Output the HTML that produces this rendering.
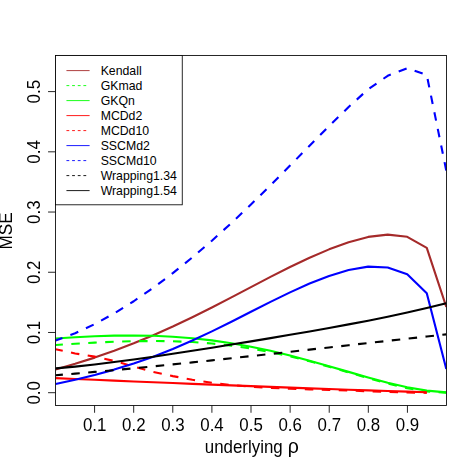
<!DOCTYPE html>
<html><head><meta charset="utf-8"><title>MSE plot</title>
<style>
html,body{margin:0;padding:0;background:#fff;}
body{width:475px;height:475px;overflow:hidden;}
svg{display:block;}
text{font-family:"Liberation Sans",sans-serif;fill:#000;}
</style></head>
<body>
<svg width="475" height="475" viewBox="0 0 475 475">
<rect x="0" y="0" width="475" height="475" fill="#fff"/>
<defs><clipPath id="pc"><rect x="55.45" y="55.42" width="391" height="350.15"/></clipPath></defs>
<g clip-path="url(#pc)">
<path d="M55.60,369.57 L75.14,363.85 L94.67,357.62 L114.21,350.80 L133.74,343.34 L153.28,335.22 L172.81,326.49 L192.34,317.19 L211.88,307.43 L231.41,297.34 L250.95,287.10 L270.49,276.92 L290.02,267.04 L309.56,257.75 L329.09,249.37 L348.62,242.24 L368.16,236.90 L387.70,234.60 L407.23,236.80 L426.77,247.80 L446.30,307.00" fill="none" stroke="#A52A2A" stroke-width="2.12" stroke-linecap="butt" stroke-linejoin="round"/>
<path d="M55.60,345.02 L75.14,343.71 L94.67,342.62 L114.21,341.77 L133.74,341.20 L153.28,341.01 L172.81,341.26 L192.34,342.06 L211.88,343.48 L231.41,345.59 L250.95,348.44 L270.49,352.03 L290.02,356.33 L309.56,361.28 L329.09,366.72 L348.62,372.45 L368.16,378.20 L387.70,383.60 L407.23,388.19 L426.77,391.41 L446.30,392.59" fill="none" stroke="#00FF00" stroke-width="2.12" stroke-linecap="butt" stroke-linejoin="round" stroke-dasharray="8.5 8.46" stroke-dashoffset="1.2"/>
<path d="M55.60,338.56 L75.14,337.20 L94.67,336.20 L114.21,335.60 L133.74,335.44 L153.28,335.79 L172.81,336.70 L192.34,338.22 L211.88,340.38 L231.41,343.20 L250.95,346.69 L270.49,350.81 L290.02,355.51 L309.56,360.68 L329.09,366.20 L348.62,371.88 L368.16,377.48 L387.70,382.71 L407.23,387.22 L426.77,390.59 L446.30,392.32" fill="none" stroke="#00FF00" stroke-width="2.12" stroke-linecap="butt" stroke-linejoin="round"/>
<path d="M55.60,378.12 L75.14,378.96 L94.67,379.79 L114.21,380.62 L133.74,381.44 L153.28,382.25 L172.81,383.05 L192.34,383.85 L211.88,384.63 L231.41,385.40 L250.95,386.16 L270.49,386.90 L290.02,387.63 L309.56,388.34 L329.09,389.04 L348.62,389.72 L368.16,390.38 L387.70,391.02 L407.23,391.64 L426.77,392.24" fill="none" stroke="#FF0000" stroke-width="2.12" stroke-linecap="butt" stroke-linejoin="round"/>
<path d="M55.60,349.20 L75.14,353.50 L94.67,356.60 L114.21,361.00 L133.74,366.50 L153.28,371.90 L172.81,376.09 L192.34,379.79 L211.88,382.78 L231.41,385.06 L250.95,386.73 L270.49,387.92 L290.02,388.75 L309.56,389.39 L329.09,389.96 L348.62,390.55 L368.16,391.22 L387.70,391.91 L407.23,392.53 L426.77,392.82" fill="none" stroke="#FF0000" stroke-width="2.12" stroke-linecap="butt" stroke-linejoin="round" stroke-dasharray="8.5 8.46" stroke-dashoffset="1.2"/>
<path d="M55.60,383.99 L75.14,379.68 L94.67,374.95 L114.21,369.61 L133.74,363.53 L153.28,356.64 L172.81,348.94 L192.34,340.47 L211.88,331.34 L231.41,321.71 L250.95,311.81 L270.49,301.92 L290.02,292.37 L309.56,283.57 L329.09,275.96 L348.62,270.06 L368.16,266.60 L387.70,267.50 L407.23,274.30 L426.77,293.30 L446.30,369.00" fill="none" stroke="#0000FF" stroke-width="2.12" stroke-linecap="butt" stroke-linejoin="round"/>
<path d="M55.60,340.43 L75.14,333.26 L94.67,324.17 L114.21,313.42 L133.74,301.25 L153.28,287.80 L172.81,273.17 L192.34,257.45 L211.88,240.71 L231.41,223.02 L250.95,204.50 L270.49,185.28 L290.02,165.59 L309.56,145.70 L329.09,126.01 L348.62,107.00 L368.16,89.30 L387.70,75.80 L407.23,68.30 L426.77,75.00 L446.30,170.70" fill="none" stroke="#0000FF" stroke-width="2.12" stroke-linecap="butt" stroke-linejoin="round" stroke-dasharray="8.5 8.46" stroke-dashoffset="1.2"/>
<path d="M55.60,375.28 L75.14,373.64 L94.67,371.92 L114.21,370.13 L133.74,368.28 L153.28,366.38 L172.81,364.41 L192.34,362.40 L211.88,360.35 L231.41,358.26 L250.95,356.14 L270.49,353.99 L290.02,351.82 L309.56,349.63 L329.09,347.44 L348.62,345.24 L368.16,343.04 L387.70,340.85 L407.23,338.67 L426.77,336.50 L446.30,334.36" fill="none" stroke="#000000" stroke-width="2.12" stroke-linecap="butt" stroke-linejoin="round" stroke-dasharray="8.5 8.46" stroke-dashoffset="1.2"/>
<path d="M55.60,368.34 L75.14,366.57 L94.67,364.46 L114.21,362.07 L133.74,359.47 L153.28,356.69 L172.81,353.78 L192.34,350.77 L211.88,347.68 L231.41,344.53 L250.95,341.34 L270.49,338.09 L290.02,334.80 L309.56,331.43 L329.09,327.97 L348.62,324.40 L368.16,320.67 L387.70,316.74 L407.23,312.56 L426.77,308.06 L446.30,303.19" fill="none" stroke="#000000" stroke-width="2.12" stroke-linecap="butt" stroke-linejoin="round"/>
</g>
<rect x="55.45" y="55.42" width="391.00" height="350.15" fill="none" stroke="#000" stroke-width="0.85"/>
<line x1="94.59" y1="405.57" x2="94.59" y2="412.77" stroke="#000" stroke-width="0.85"/>
<line x1="133.69" y1="405.57" x2="133.69" y2="412.77" stroke="#000" stroke-width="0.85"/>
<line x1="172.79" y1="405.57" x2="172.79" y2="412.77" stroke="#000" stroke-width="0.85"/>
<line x1="211.90" y1="405.57" x2="211.90" y2="412.77" stroke="#000" stroke-width="0.85"/>
<line x1="251.00" y1="405.57" x2="251.00" y2="412.77" stroke="#000" stroke-width="0.85"/>
<line x1="290.11" y1="405.57" x2="290.11" y2="412.77" stroke="#000" stroke-width="0.85"/>
<line x1="329.22" y1="405.57" x2="329.22" y2="412.77" stroke="#000" stroke-width="0.85"/>
<line x1="368.32" y1="405.57" x2="368.32" y2="412.77" stroke="#000" stroke-width="0.85"/>
<line x1="407.43" y1="405.57" x2="407.43" y2="412.77" stroke="#000" stroke-width="0.85"/>
<line x1="48.05" y1="392.70" x2="55.45" y2="392.70" stroke="#000" stroke-width="0.85"/>
<line x1="48.05" y1="332.48" x2="55.45" y2="332.48" stroke="#000" stroke-width="0.85"/>
<line x1="48.05" y1="272.26" x2="55.45" y2="272.26" stroke="#000" stroke-width="0.85"/>
<line x1="48.05" y1="212.04" x2="55.45" y2="212.04" stroke="#000" stroke-width="0.85"/>
<line x1="48.05" y1="151.82" x2="55.45" y2="151.82" stroke="#000" stroke-width="0.85"/>
<line x1="48.05" y1="91.60" x2="55.45" y2="91.60" stroke="#000" stroke-width="0.85"/>
<g opacity="0.999">
<rect x="55.45" y="55.42" width="126.80" height="149.38" fill="#fff" stroke="#000" stroke-width="0.85"/>
<line x1="66.45" y1="70.60" x2="89.6" y2="70.60" stroke="#A52A2A" stroke-width="0.9" stroke-linecap="butt"/>
<text transform="translate(100.65,74.60) scale(1,1.02)" font-size="12.3">Kendall</text>
<line x1="66.45" y1="85.60" x2="88.6" y2="85.60" stroke="#00FF00" stroke-width="0.9" stroke-linecap="butt" stroke-dasharray="2.83 2.82"/>
<text transform="translate(100.65,89.60) scale(1,1.02)" font-size="12.3">GKmad</text>
<line x1="66.45" y1="100.60" x2="89.6" y2="100.60" stroke="#00FF00" stroke-width="0.9" stroke-linecap="butt"/>
<text transform="translate(100.65,104.60) scale(1,1.02)" font-size="12.3">GKQn</text>
<line x1="66.45" y1="115.60" x2="89.6" y2="115.60" stroke="#FF0000" stroke-width="0.9" stroke-linecap="butt"/>
<text transform="translate(100.65,119.60) scale(1,1.02)" font-size="12.3">MCDd2</text>
<line x1="66.45" y1="130.60" x2="88.6" y2="130.60" stroke="#FF0000" stroke-width="0.9" stroke-linecap="butt" stroke-dasharray="2.83 2.82"/>
<text transform="translate(100.65,134.60) scale(1,1.02)" font-size="12.3">MCDd10</text>
<line x1="66.45" y1="145.60" x2="89.6" y2="145.60" stroke="#0000FF" stroke-width="0.9" stroke-linecap="butt"/>
<text transform="translate(100.65,149.60) scale(1,1.02)" font-size="12.3">SSCMd2</text>
<line x1="66.45" y1="160.60" x2="88.6" y2="160.60" stroke="#0000FF" stroke-width="0.9" stroke-linecap="butt" stroke-dasharray="2.83 2.82"/>
<text transform="translate(100.65,164.60) scale(1,1.02)" font-size="12.3">SSCMd10</text>
<line x1="66.45" y1="175.60" x2="88.6" y2="175.60" stroke="#000000" stroke-width="0.9" stroke-linecap="butt" stroke-dasharray="2.83 2.82"/>
<text transform="translate(100.65,179.60) scale(1,1.02)" font-size="12.3">Wrapping1.34</text>
<line x1="66.45" y1="190.60" x2="89.6" y2="190.60" stroke="#000000" stroke-width="0.9" stroke-linecap="butt"/>
<text transform="translate(100.65,194.60) scale(1,1.02)" font-size="12.3">Wrapping1.54</text>
<text transform="translate(94.69,430.6) scale(1,1.065)" text-anchor="middle" font-size="16.9">0.1</text>
<text transform="translate(133.79,430.6) scale(1,1.065)" text-anchor="middle" font-size="16.9">0.2</text>
<text transform="translate(172.89,430.6) scale(1,1.065)" text-anchor="middle" font-size="16.9">0.3</text>
<text transform="translate(212.00,430.6) scale(1,1.065)" text-anchor="middle" font-size="16.9">0.4</text>
<text transform="translate(251.10,430.6) scale(1,1.065)" text-anchor="middle" font-size="16.9">0.5</text>
<text transform="translate(290.21,430.6) scale(1,1.065)" text-anchor="middle" font-size="16.9">0.6</text>
<text transform="translate(329.32,430.6) scale(1,1.065)" text-anchor="middle" font-size="16.9">0.7</text>
<text transform="translate(368.42,430.6) scale(1,1.065)" text-anchor="middle" font-size="16.9">0.8</text>
<text transform="translate(407.53,430.6) scale(1,1.065)" text-anchor="middle" font-size="16.9">0.9</text>
<text transform="translate(40,392.80) rotate(-90) scale(1,1.065)" text-anchor="middle" font-size="16.9">0.0</text>
<text transform="translate(40,332.58) rotate(-90) scale(1,1.065)" text-anchor="middle" font-size="16.9">0.1</text>
<text transform="translate(40,272.36) rotate(-90) scale(1,1.065)" text-anchor="middle" font-size="16.9">0.2</text>
<text transform="translate(40,212.14) rotate(-90) scale(1,1.065)" text-anchor="middle" font-size="16.9">0.3</text>
<text transform="translate(40,151.92) rotate(-90) scale(1,1.065)" text-anchor="middle" font-size="16.9">0.4</text>
<text transform="translate(40,91.70) rotate(-90) scale(1,1.065)" text-anchor="middle" font-size="16.9">0.5</text>
<text transform="translate(204.8,453.3) scale(1,1.065)" font-size="16.9">underlying</text>
<text transform="translate(287.7,453.3) scale(1,1.0)" font-size="19.5">ρ</text>
<text transform="translate(12.1,231.0) rotate(-90) scale(1.015,1.065)" text-anchor="middle" font-size="16.9">MSE</text>
</g>
</svg>
</body></html>
